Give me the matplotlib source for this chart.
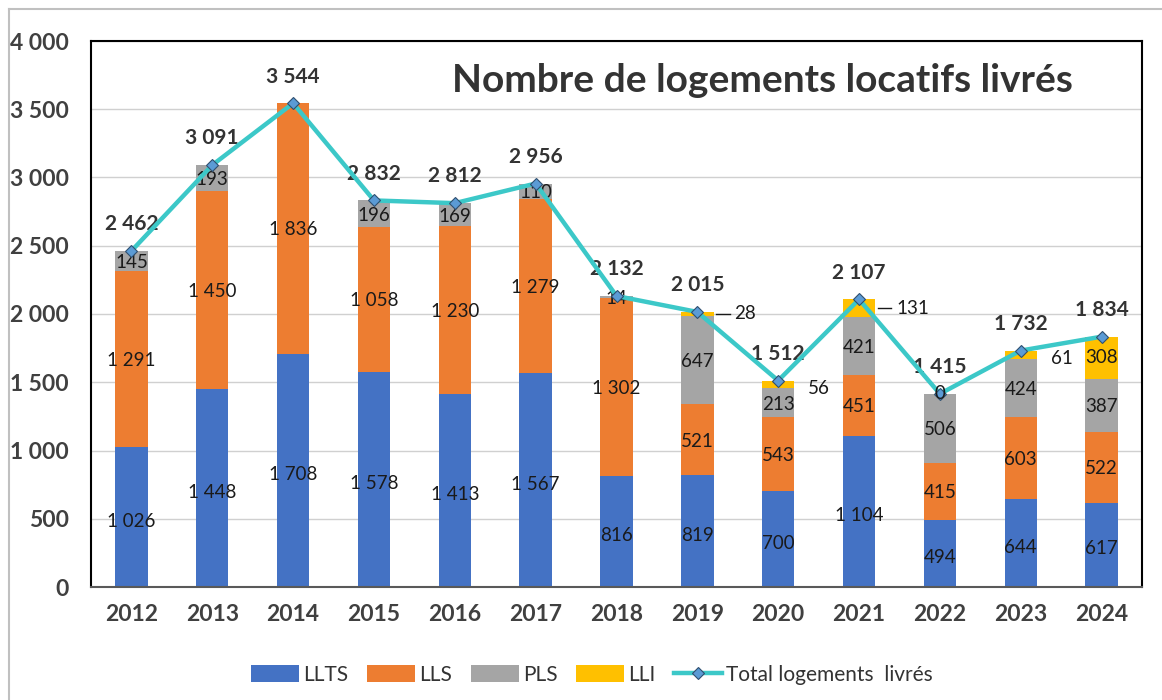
import numpy as np
import matplotlib
matplotlib.use("Agg")
from matplotlib import pyplot as plt
from matplotlib.lines import Line2D

# data
years = ['2012', '2013', '2014', '2015', '2016', '2017', '2018', '2019', '2020', '2021', '2022', '2023', '2024']
llts = [1026, 1448, 1708, 1578, 1413, 1567, 816, 819, 700, 1104, 494, 644, 617]
lls = [1291, 1450, 1836, 1058, 1230, 1279, 1302, 521, 543, 451, 415, 603, 522]
pls = [145, 193, 0, 196, 169, 110, 14, 647, 213, 421, 506, 424, 387]
lli = [0, 0, 0, 0, 0, 0, 0, 28, 56, 131, 0, 61, 308]
total = [2462, 3091, 3544, 2832, 2812, 2956, 2132, 2015, 1512, 2107, 1415, 1732, 1834]

plt.rcParams['font.family'] = ['Lato', 'DejaVu Sans']

def fmt(v):
    return '{:,}'.format(int(v)).replace(',', ' ')

fig = plt.figure(figsize=(11.62, 7), dpi=100)
ax = fig.add_axes([91/1162, 1-587/700, (1142-91)/1162, (587-41)/700])

x = np.arange(len(years))
w = 0.4
cols = ['#4472C4', '#ED7D31', '#A5A5A5', '#FFC000']
names = ['LLTS', 'LLS', 'PLS', 'LLI']
series = [llts, lls, pls, lli]
bottom = np.zeros(len(years))
for s, c, n in zip(series, cols, names):
    ax.bar(x, s, w, bottom=bottom, color=c, label=n, zorder=2)
    bottom += np.array(s)

ax.plot(x, total, color='#3CC8C8', lw=3.2, marker='D', markersize=6.5,
        markerfacecolor='#5B9BD5', markeredgecolor='#2F4F6F', markeredgewidth=0.8,
        label='Total logements  livrés', zorder=4)

# segment labels
lab_col = '#1a1a1a'
fs = 13.5
base = np.zeros(len(years))
for k, s in enumerate(series):
    for i, v in enumerate(s):
        mid = base[i] + v / 2
        if k < 3 and v > 0:
            ax.text(x[i], mid - 30 if k == 0 else mid - 10, fmt(v), ha='center', va='center',
                    fontsize=fs, color=lab_col, zorder=3)
        elif k == 3:
            if v >= 200:
                ax.text(x[i], mid, fmt(v), ha='center', va='center', fontsize=fs, color=lab_col, zorder=3)
            elif v in (28, 131):
                # leader line then value
                ax.plot([x[i] + w / 2 + 0.03, x[i] + w / 2 + 0.2], [mid, mid], color=lab_col, lw=1, zorder=3)
                ax.text(x[i] + w / 2 + 0.26, mid, fmt(v), ha='left', va='center',
                        fontsize=fs, color=lab_col, zorder=3)
            elif v > 0:
                ax.text(x[i] + 0.37, mid - 30, fmt(v), ha='left', va='center',
                        fontsize=fs, color=lab_col, zorder=3)
            elif i == 10:
                ax.text(x[i], total[i], '0', ha='center', va='center', fontsize=fs, color=lab_col, zorder=5)
        base[i] += v

for i, t in enumerate(total):
    ax.annotate(fmt(t), (x[i], t), xytext=(0, 12), textcoords='offset points',
                ha='center', va='bottom', fontsize=15, fontweight='bold', color='#333333')

ax.set_xlim(-0.5, len(years) - 0.5)
ax.set_ylim(0, 4000)
ax.set_yticks(np.arange(0, 4001, 500))
ax.set_yticklabels([fmt(v) for v in np.arange(0, 4001, 500)])
ax.set_xticks(x)
ax.set_xticklabels(years)
ax.tick_params(axis='both', length=0, labelsize=16.5, colors='#404040')
ax.tick_params(axis='y', pad=16)
ax.tick_params(axis='x', pad=12)
for lbl in ax.get_xticklabels() + ax.get_yticklabels():
    lbl.set_fontweight('bold')
ax.grid(axis='y', color='#D0D0D0', lw=1, zorder=0)
ax.set_axisbelow(True)
for sp in ax.spines.values():
    sp.set_color('black')
    sp.set_linewidth(1.5)
ax.spines['bottom'].set_color('#595959')

ax.text(0.639, 0.928, 'Nombre de logements locatifs livrés', transform=ax.transAxes,
        ha='center', va='center', fontsize=28, fontweight='bold', color='#333333')

handles, labels = ax.get_legend_handles_labels()
order = [1, 2, 3, 4, 0]
fig.legend([handles[j] for j in order], [labels[j] for j in order], loc='center',
           bbox_to_anchor=(592/1162, 1-675/700), ncol=5, frameon=False, fontsize=15,
           handlelength=2.3, handleheight=0.9, columnspacing=0.9, handletextpad=0.2,
           labelcolor='#333333')

# outer chart frame
fig.add_artist(Line2D([9/1162, 9/1162], [0, 1-9/700], color='#C0C0C0', lw=1.5))
fig.add_artist(Line2D([9/1162, 1], [1-9/700, 1-9/700], color='#C0C0C0', lw=1.5))

fig.savefig('out.png', dpi=100)
